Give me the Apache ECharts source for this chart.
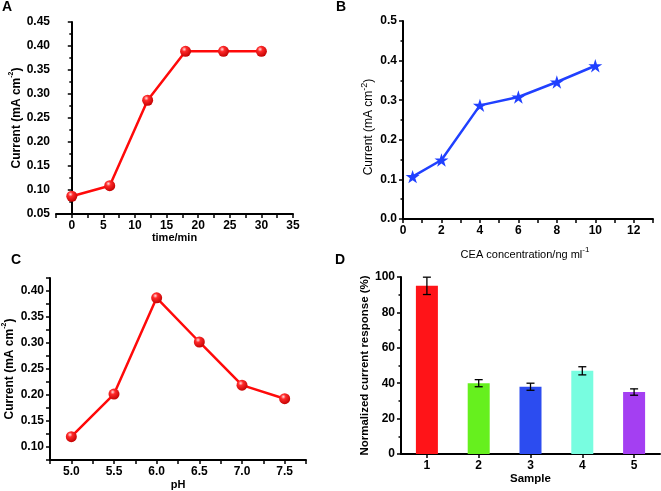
<!DOCTYPE html>
<html>
<head>
<meta charset="utf-8">
<script src="https://cdn.jsdelivr.net/npm/echarts@6/dist/echarts.min.js"></script>
<style>
html,body{margin:0;padding:0;background:#fff;}
#chart{width:661px;height:491px;}
</style>
</head>
<body>
<div id="chart"></div>
<script>
// Panel A
const timeMin = [0, 6, 12, 18, 24, 30];
const currentTime = [0.087, 0.109, 0.287, 0.389, 0.389, 0.389];
// Panel B
const ceaConc = [0.5, 2, 4, 6, 8, 10];
const currentCEA = [0.107, 0.149, 0.287, 0.308, 0.346, 0.387];
// Panel C
const pHValues = [5.0, 5.5, 6.0, 6.5, 7.0, 7.5];
const currentPH = [0.120, 0.202, 0.387, 0.302, 0.219, 0.193];
// Panel D
const samples = ['1', '2', '3', '4', '5'];
const responses = [95, 40, 38, 47, 35];
const responseErr = [4.9, 2.0, 2.0, 2.3, 1.8];
const barColors = ['#ff1418', '#66f01e', '#2c4cf0', '#78fde0', '#a43ff2'];

const FONT = '"Liberation Sans", Arial, sans-serif';
const chart = echarts.init(document.getElementById('chart'));

const axisLine = { show: true, lineStyle: { color: '#000', width: 2 } };
const axisTick = { show: true, length: 4, lineStyle: { color: '#000', width: 1.5 } };
const minorTick = { show: true, splitNumber: 2, length: 2.5, lineStyle: { color: '#000', width: 1.5 } };
const labelStyle = { color: '#000', fontSize: 12, fontWeight: 'bold', fontFamily: FONT, margin: 6 };

function makeRich(size, supSize, weight) {
  return {
    t: { fontSize: size, fontWeight: weight, fontFamily: FONT, color: '#000', verticalAlign: 'bottom', lineHeight: size + 3 },
    s: { fontSize: supSize, fontWeight: weight, fontFamily: FONT, color: '#000', verticalAlign: 'top', lineHeight: supSize + 1 }
  };
}
function nameStyle(size, supSize, weight, extra) {
  return Object.assign({ rich: makeRich(size, supSize, weight), fontSize: size, fontWeight: weight, fontFamily: FONT, color: '#000' }, extra || {});
}
function onStep(v, step) { return Math.abs(Math.round(v / step) * step - v) < 1e-6; }

const redBall = {
  type: 'radial', x: 0.38, y: 0.32, r: 0.72,
  colorStops: [
    { offset: 0, color: '#ffe0e0' },
    { offset: 0.3, color: '#ff2a2a' },
    { offset: 1, color: '#c00000' }
  ]
};
const starPath = 'path://M50 0 L61.23 34.55 L97.55 34.55 L68.16 55.9 L79.39 90.45 L50 69.1 L20.61 90.45 L31.84 55.9 L2.45 34.55 L38.77 34.55 Z';

const option = {
  animation: false,
  textStyle: { fontFamily: FONT },
  grid: [
    { left: 56, top: 22, width: 237, height: 192 },
    { left: 403, top: 21, width: 250, height: 198 },
    { left: 50, top: 278, width: 256, height: 183 },
    { left: 401, top: 277, width: 259, height: 177 }
  ],
  graphic: [
    { type: 'text', left: 2, top: 0, style: { text: 'A', font: 'bold 14px ' + FONT, fill: '#000' } },
    { type: 'text', left: 336, top: 0, style: { text: 'B', font: 'bold 14px ' + FONT, fill: '#000' } },
    { type: 'text', left: 11, top: 253, style: { text: 'C', font: 'bold 14px ' + FONT, fill: '#000' } },
    { type: 'text', left: 335, top: 253, style: { text: 'D', font: 'bold 14px ' + FONT, fill: '#000' } }
  ],
  xAxis: [
    {
      gridIndex: 0, type: 'value', min: -2.5, max: 35, interval: 2.5,
      axisLine, axisTick, splitLine: { show: false },
      axisLabel: Object.assign({}, labelStyle, { formatter: v => onStep(v, 5) ? String(Math.round(v)) : '' }),
      name: 'time/min', nameLocation: 'middle', nameGap: 17, nameTextStyle: nameStyle(11, 7, 'bold')
    },
    {
      gridIndex: 1, type: 'value', min: 0, max: 13, interval: 1,
      axisLine, axisTick, splitLine: { show: false },
      axisLabel: Object.assign({}, labelStyle, { formatter: v => onStep(v, 2) ? String(Math.round(v)) : '' }),
      name: '{t|CEA concentration/ng ml}{s|-1}', nameLocation: 'middle', nameGap: 27,
      nameTextStyle: nameStyle(11, 8, 'normal', { padding: [0, 6, 0, 0] })
    },
    {
      gridIndex: 2, type: 'value', min: 4.75, max: 7.75, interval: 0.25,
      axisLine, axisTick, splitLine: { show: false },
      axisLabel: Object.assign({}, labelStyle, { formatter: v => onStep(v, 0.5) && v > 4.9 ? v.toFixed(1) : '' }),
      name: 'pH', nameLocation: 'middle', nameGap: 16, nameTextStyle: nameStyle(11, 7, 'bold')
    },
    {
      gridIndex: 3, type: 'category', data: samples,
      axisLine, axisTick: Object.assign({}, axisTick, { alignWithLabel: true }),
      axisLabel: labelStyle,
      name: 'Sample', nameLocation: 'middle', nameGap: 19, nameTextStyle: nameStyle(11.5, 7, 'bold')
    }
  ],
  yAxis: [
    {
      gridIndex: 0, type: 'value', min: 0.05, max: 0.45, interval: 0.05,
      axisLine, axisTick, minorTick, splitLine: { show: false }, minorSplitLine: { show: false },
      axisLabel: Object.assign({}, labelStyle, { formatter: v => v.toFixed(2) }),
      name: '{t|Current (mA cm}{s|-2}{t|)}', nameLocation: 'middle', nameGap: 30, nameTextStyle: nameStyle(12, 7, 'bold')
    },
    {
      gridIndex: 1, type: 'value', min: 0, max: 0.5, interval: 0.1,
      axisLine, axisTick, minorTick, splitLine: { show: false }, minorSplitLine: { show: false },
      axisLabel: Object.assign({}, labelStyle, { formatter: v => v.toFixed(1) }),
      name: '{t|Current (mA cm}{s|-2}{t|)}', nameLocation: 'middle', nameGap: 28,
      nameTextStyle: nameStyle(12, 9, 'normal', { padding: [0, 14, 0, 0] })
    },
    {
      gridIndex: 2, type: 'value', min: 0.075, max: 0.425, interval: 0.025,
      axisLine, axisTick, splitLine: { show: false },
      axisLabel: Object.assign({}, labelStyle, { formatter: v => onStep(v, 0.05) ? v.toFixed(2) : '' }),
      name: '{t|Current (mA cm}{s|-2}{t|)}', nameLocation: 'middle', nameGap: 34, nameTextStyle: nameStyle(12, 7, 'bold')
    },
    {
      gridIndex: 3, type: 'value', min: 0, max: 100, interval: 20,
      axisLine, axisTick, minorTick, splitLine: { show: false }, minorSplitLine: { show: false },
      axisLabel: labelStyle,
      name: 'Normalized current response (%)', nameLocation: 'middle', nameGap: 25, nameTextStyle: nameStyle(11.5, 7, 'bold')
    }
  ],
  series: [
    {
      type: 'line', xAxisIndex: 0, yAxisIndex: 0,
      data: timeMin.map((t, i) => [t, currentTime[i]]),
      symbol: 'circle', symbolSize: 11,
      lineStyle: { color: '#ff0a0a', width: 2.5 },
      itemStyle: { color: redBall, borderWidth: 0 }
    },
    {
      type: 'line', xAxisIndex: 1, yAxisIndex: 1,
      data: ceaConc.map((c, i) => [c, currentCEA[i]]),
      symbol: starPath, symbolSize: 14, symbolKeepAspect: true,
      lineStyle: { color: '#2040ff', width: 2.5 },
      itemStyle: { color: '#2040ff', borderWidth: 0 }
    },
    {
      type: 'line', xAxisIndex: 2, yAxisIndex: 2,
      data: pHValues.map((p, i) => [p, currentPH[i]]),
      symbol: 'circle', symbolSize: 11,
      lineStyle: { color: '#ff0a0a', width: 2.5 },
      itemStyle: { color: redBall, borderWidth: 0 }
    },
    {
      type: 'bar', xAxisIndex: 3, yAxisIndex: 3, barWidth: 22,
      data: responses.map((v, i) => ({ value: v, itemStyle: { color: barColors[i] } }))
    },
    {
      type: 'custom', xAxisIndex: 3, yAxisIndex: 3, z: 10,
      data: responses.map((v, i) => [i, v + responseErr[i], v - responseErr[i]]),
      encode: { x: 0, y: [1, 2] },
      renderItem: function (params, api) {
        const hi = api.coord([api.value(0), api.value(1)]);
        const lo = api.coord([api.value(0), api.value(2)]);
        const w = 4;
        const st = { stroke: '#000', lineWidth: 1.3 };
        return {
          type: 'group',
          children: [
            { type: 'line', shape: { x1: hi[0], y1: hi[1], x2: lo[0], y2: lo[1] }, style: st },
            { type: 'line', shape: { x1: hi[0] - w, y1: hi[1], x2: hi[0] + w, y2: hi[1] }, style: st },
            { type: 'line', shape: { x1: lo[0] - w, y1: lo[1], x2: lo[0] + w, y2: lo[1] }, style: st }
          ]
        };
      }
    }
  ]
};
chart.setOption(option);
</script>
</body>
</html>
